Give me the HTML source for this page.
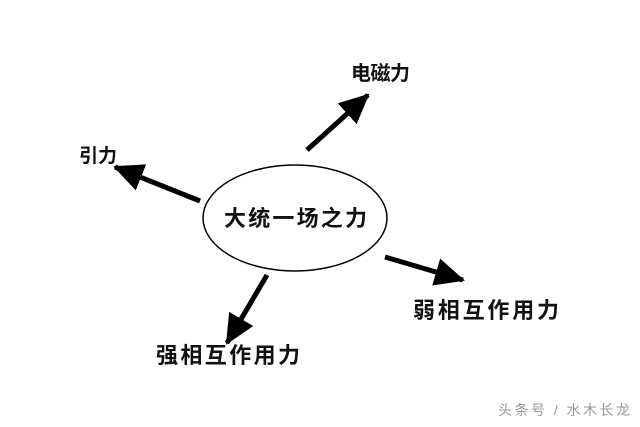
<!DOCTYPE html>
<html><head><meta charset="utf-8"><style>
html,body{margin:0;padding:0;background:#fff;}
svg{display:block;}
text{font-family:"Liberation Sans","Noto Sans CJK SC",sans-serif;font-weight:bold;fill:#111;}
</style></head><body>
<svg width="640" height="427" viewBox="0 0 640 427" xmlns="http://www.w3.org/2000/svg">
<defs>
<marker id="a" markerUnits="userSpaceOnUse" markerWidth="30" markerHeight="28" refX="28" refY="14" orient="auto">
<path d="M0,0 L30,14 L0,28 Z" fill="#000"/>
</marker>
</defs>
<ellipse cx="295" cy="218" rx="92" ry="53" fill="#fff" stroke="#000" stroke-width="1.5"/>
<g stroke="#000" stroke-width="5" marker-end="url(#a)">
<line x1="307" y1="150" x2="368" y2="95"/>
<line x1="200" y1="201" x2="115" y2="167"/>
<line x1="267" y1="275" x2="227" y2="343"/>
<line x1="385" y1="257" x2="463" y2="280"/>
</g>
<text x="351" y="80" font-size="20" textLength="59" lengthAdjust="spacing">电磁力</text>
<text x="79" y="162" font-size="19">引力</text>
<text x="224" y="226" font-size="22" textLength="143" lengthAdjust="spacing">大统一场之力</text>
<text x="156" y="363" font-size="22" textLength="144" lengthAdjust="spacing">强相互作用力</text>
<text x="413" y="318" font-size="22" textLength="146" lengthAdjust="spacing">弱相互作用力</text>
<text x="498" y="415" font-size="14" textLength="132" lengthAdjust="spacing" style="font-weight:normal;fill:#999">头条号 / 水木长龙</text>
</svg>
</body></html>
